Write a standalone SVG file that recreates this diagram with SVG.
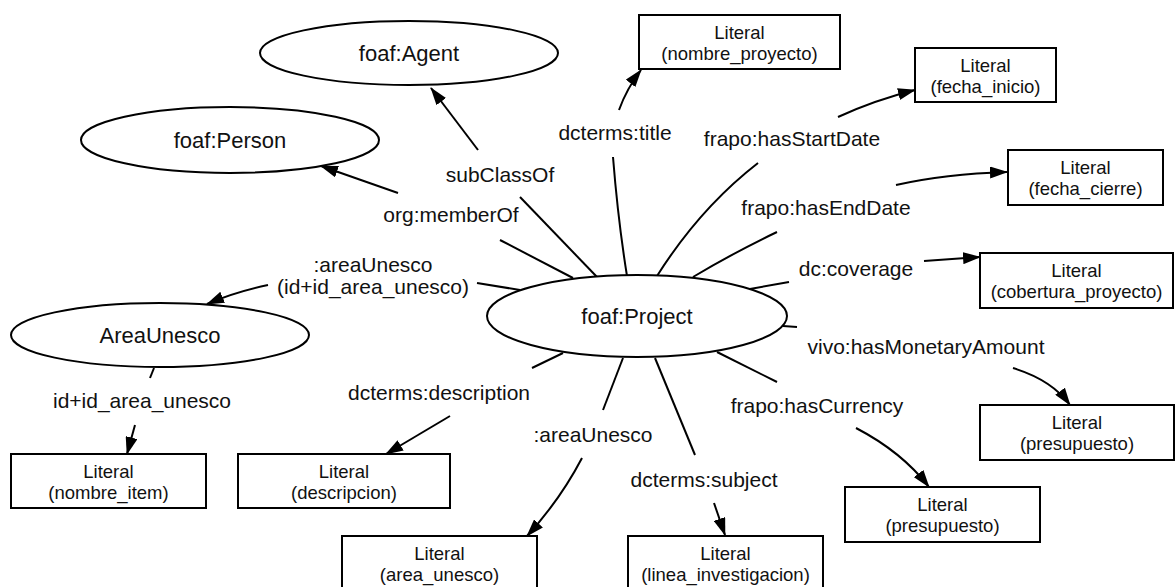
<svg xmlns="http://www.w3.org/2000/svg" width="1176" height="587" viewBox="0 0 1176 587">
<defs>
<marker id="arr" markerUnits="userSpaceOnUse" markerWidth="18" markerHeight="12" refX="17" refY="6" orient="auto">
<path d="M0,0 L18,6 L0,12 z" fill="#000"/>
</marker>
<style>
.n ellipse,.n rect{fill:#fff;stroke:#000;stroke-width:2}
.n text{font-family:"Liberation Sans",Arial,sans-serif;text-anchor:middle;fill:#111}
.el{font-size:22px}
.bx{font-size:18.5px}
.lbl{font-family:"Liberation Sans",Arial,sans-serif;font-size:21px;text-anchor:middle;fill:#111}
.e path{fill:none;stroke:#000;stroke-width:2}
.e path.a{marker-end:url(#arr)}
</style>
</defs>
<rect width="1176" height="587" fill="#fff"/>
<g id="edges" class="e">
<path d="M597,277 L520,197"/>
<path class="a" d="M478,150 L431,88"/>
<path d="M627,276 Q618,220 613,157"/>
<path class="a" d="M619,110 Q627,88 641,70"/>
<path d="M657,276 Q700,208 758,163"/>
<path class="a" d="M838,117 Q875,100 915,90"/>
<path d="M693,277 Q735,252 777,232"/>
<path class="a" d="M896,185 Q945,174 1007,172"/>
<path d="M750,289 L789,282"/>
<path class="a" d="M924,261 L980,257"/>
<path d="M783,326 L797,327"/>
<path class="a" d="M1013,368 Q1052,380 1070,405"/>
<path d="M717,352 L777,382"/>
<path class="a" d="M856,428 Q902,452 929,487"/>
<path d="M655,358 L695,455"/>
<path class="a" d="M714,503 L725,535"/>
<path d="M623,358 L603,410"/>
<path class="a" d="M582,458 Q560,500 527,536"/>
<path d="M563,353 L532,368"/>
<path class="a" d="M450,416 L386,454"/>
<path d="M520,290 L477,283"/>
<path class="a" d="M268,285 Q235,292 207,304"/>
<path d="M573,278 L500,240"/>
<path class="a" d="M398,193 L321,166"/>
<path d="M154,368 L150,378"/>
<path class="a" d="M135,425 L127,454"/>
</g>
<g id="labels">
<text class="lbl" x="500" y="182">subClassOf</text>
<text class="lbl" x="615" y="140">dcterms:title</text>
<text class="lbl" x="792" y="146">frapo:hasStartDate</text>
<text class="lbl" x="826" y="215">frapo:hasEndDate</text>
<text class="lbl" x="856" y="276">dc:coverage</text>
<text class="lbl" x="926" y="354">vivo:hasMonetaryAmount</text>
<text class="lbl" x="817" y="413">frapo:hasCurrency</text>
<text class="lbl" x="704" y="487">dcterms:subject</text>
<text class="lbl" x="593" y="442">:areaUnesco</text>
<text class="lbl" x="439" y="400">dcterms:description</text>
<text class="lbl" x="142" y="408">id+id_area_unesco</text>
<text class="lbl" x="373" y="272">:areaUnesco</text>
<text class="lbl" x="373" y="294">(id+id_area_unesco)</text>
<text class="lbl" x="451" y="222">org:memberOf</text>
</g>
<g id="agent" class="n"><ellipse cx="409" cy="53" rx="149" ry="32"/><text class="el" x="409" y="61">foaf:Agent</text></g>
<g id="person" class="n"><ellipse cx="230" cy="140" rx="149" ry="33"/><text class="el" x="230" y="148">foaf:Person</text></g>
<g id="project" class="n"><ellipse cx="637" cy="316" rx="150" ry="41"/><text class="el" x="637" y="324">foaf:Project</text></g>
<g id="areaunesco" class="n"><ellipse cx="160" cy="335" rx="149" ry="32"/><text class="el" x="160" y="343">AreaUnesco</text></g>
<g id="lit-nombre-proyecto" class="n"><rect x="639" y="15" width="201" height="54"/><text class="bx" x="739.5" y="39">Literal</text><text class="bx" x="739.5" y="60">(nombre_proyecto)</text></g>
<g id="lit-fecha-inicio" class="n"><rect x="915" y="48" width="141" height="54"/><text class="bx" x="985.5" y="72">Literal</text><text class="bx" x="985.5" y="93">(fecha_inicio)</text></g>
<g id="lit-fecha-cierre" class="n"><rect x="1008" y="150" width="155" height="55"/><text class="bx" x="1085.5" y="174">Literal</text><text class="bx" x="1085.5" y="195">(fecha_cierre)</text></g>
<g id="lit-cobertura" class="n"><rect x="980" y="253" width="193" height="55"/><text class="bx" x="1076.5" y="277">Literal</text><text class="bx" x="1076.5" y="298">(cobertura_proyecto)</text></g>
<g id="lit-presupuesto-1" class="n"><rect x="980" y="405" width="194" height="55"/><text class="bx" x="1077" y="429">Literal</text><text class="bx" x="1077" y="450">(presupuesto)</text></g>
<g id="lit-presupuesto-2" class="n"><rect x="845" y="487" width="195" height="55"/><text class="bx" x="942.5" y="511">Literal</text><text class="bx" x="942.5" y="532">(presupuesto)</text></g>
<g id="lit-linea" class="n"><rect x="628" y="536" width="195" height="60"/><text class="bx" x="725.5" y="560">Literal</text><text class="bx" x="725.5" y="581">(linea_investigacion)</text></g>
<g id="lit-area" class="n"><rect x="342" y="536" width="195" height="60"/><text class="bx" x="439.5" y="560">Literal</text><text class="bx" x="439.5" y="581">(area_unesco)</text></g>
<g id="lit-descripcion" class="n"><rect x="238" y="454" width="212" height="54"/><text class="bx" x="344" y="478">Literal</text><text class="bx" x="344" y="499">(descripcion)</text></g>
<g id="lit-nombre-item" class="n"><rect x="11" y="454" width="195" height="54"/><text class="bx" x="108.5" y="478">Literal</text><text class="bx" x="108.5" y="499">(nombre_item)</text></g>
</svg>
